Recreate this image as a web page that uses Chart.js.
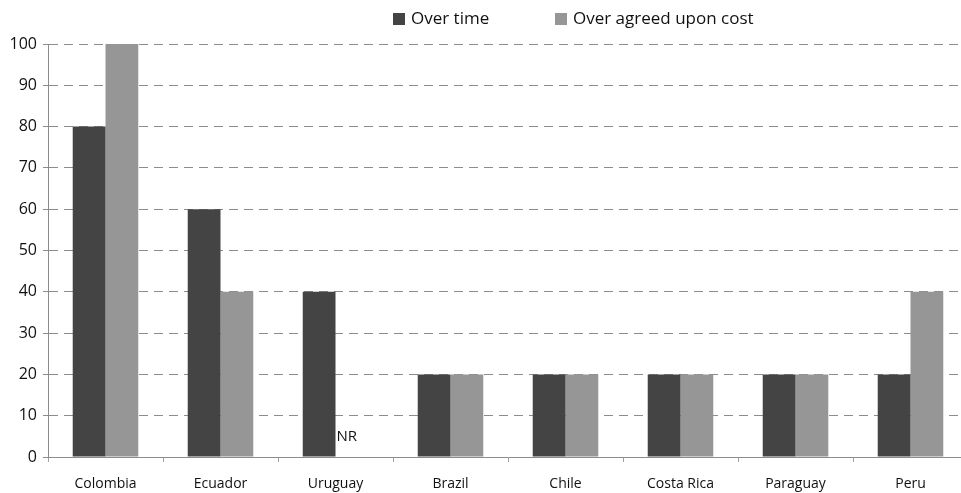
<!DOCTYPE html>
<html>
<head>
<meta charset="utf-8">
<script src="https://cdn.jsdelivr.net/npm/chart.js@4/dist/chart.umd.min.js"></script>
<style>
  html, body { margin: 0; padding: 0; background: #fff; overflow: hidden; }
  #wrap { width: 968px; height: 493px; position: relative; }
</style>
</head>
<body>
<div id="wrap"><canvas id="chart"></canvas></div>
<script>
// Countries and the share of projects running over time / over cost (%)
const countries = ['Colombia', 'Ecuador', 'Uruguay', 'Brazil', 'Chile', 'Costa Rica', 'Paraguay', 'Peru'];
const overTime = [80, 60, 40, 20, 20, 20, 20, 20];
const overCost = [100, 40, null, 20, 20, 20, 20, 40];
// Notes shown where a cost value was not reported
const costNotes = [null, null, 'NR', null, null, null, null, null];
const seriesNames = ['Over time', 'Over agreed upon cost'];
const seriesColors = ['#444444', '#969696'];

const FONT = '"Open Sans", Lato, sans-serif';

// Legend drawn across the top, centred over the bar area
const topLegend = {
  id: 'topLegend',
  afterDraw(chart) {
    const ctx = chart.ctx;
    ctx.save();
    ctx.font = '17px ' + FONT;
    ctx.textBaseline = 'middle';
    ctx.textAlign = 'left';
    const starts = [393, 555];
    seriesNames.forEach((name, i) => {
      const x = starts[i];
      ctx.fillStyle = seriesColors[i];
      ctx.fillRect(x, 13, 12, 12);
      ctx.fillStyle = '#111';
      ctx.fillText(name, x + 18, 19);
    });
    ctx.restore();
  }
};

// Text notes placed at the foot of bars with no value
const barNotes = {
  id: 'barNotes',
  afterDatasetsDraw(chart) {
    const ctx = chart.ctx;
    const meta = chart.getDatasetMeta(1);
    const y = chart.scales.y.getPixelForValue(5);
    ctx.save();
    ctx.font = '15px ' + FONT;
    ctx.fillStyle = '#111';
    ctx.textAlign = 'left';
    ctx.textBaseline = 'middle';
    costNotes.forEach((note, i) => {
      if (!note) return;
      const el = meta.data[i];
      ctx.fillText(note, el.x - (el.width || 0) / 2 + 1, y);
    });
    ctx.restore();
  }
};

new Chart(document.getElementById('chart'), {
  type: 'bar',
  data: {
    labels: countries,
    datasets: [
      { label: seriesNames[0], data: overTime, backgroundColor: seriesColors[0] },
      { label: seriesNames[1], data: overCost, backgroundColor: seriesColors[1] }
    ]
  },
  options: {
    responsive: true,
    maintainAspectRatio: false,
    animation: false,
    layout: { padding: { top: 44, right: 0, left: 0, bottom: 0 } },
    datasets: { bar: { categoryPercentage: 0.57, barPercentage: 1.0 } },
    plugins: {
      legend: { display: false },
      tooltip: { enabled: false }
    },
    scales: {
      x: {
        offset: true,
        grid: {
          offset: true,
          drawOnChartArea: false,
          drawTicks: true,
          tickLength: 5,
          color: '#a0a0a0',
          tickColor: '#a0a0a0'
        },
        border: { display: true, color: '#8c8c8c', width: 1 },
        ticks: {
          color: '#111',
          font: { family: FONT, size: 14 },
          padding: 14,
          maxRotation: 0,
          autoSkip: false
        },
        afterFit(scale) { scale.height = 36; }
      },
      y: {
        min: 0,
        max: 100,
        grid: {
          color: '#8c8c8c',
          lineWidth: 1,
          drawTicks: true,
          tickLength: 5,
          tickColor: '#8c8c8c',
          tickBorderDash: []
        },
        border: { display: true, color: '#8c8c8c', width: 1, dash: [9, 6] },
        ticks: {
          stepSize: 10,
          color: '#111',
          font: { family: FONT, size: 16 },
          padding: 6
        },
        afterFit(scale) { scale.width = 48; }
      }
    }
  },
  plugins: [topLegend, barNotes]
});
</script>
</body>
</html>
